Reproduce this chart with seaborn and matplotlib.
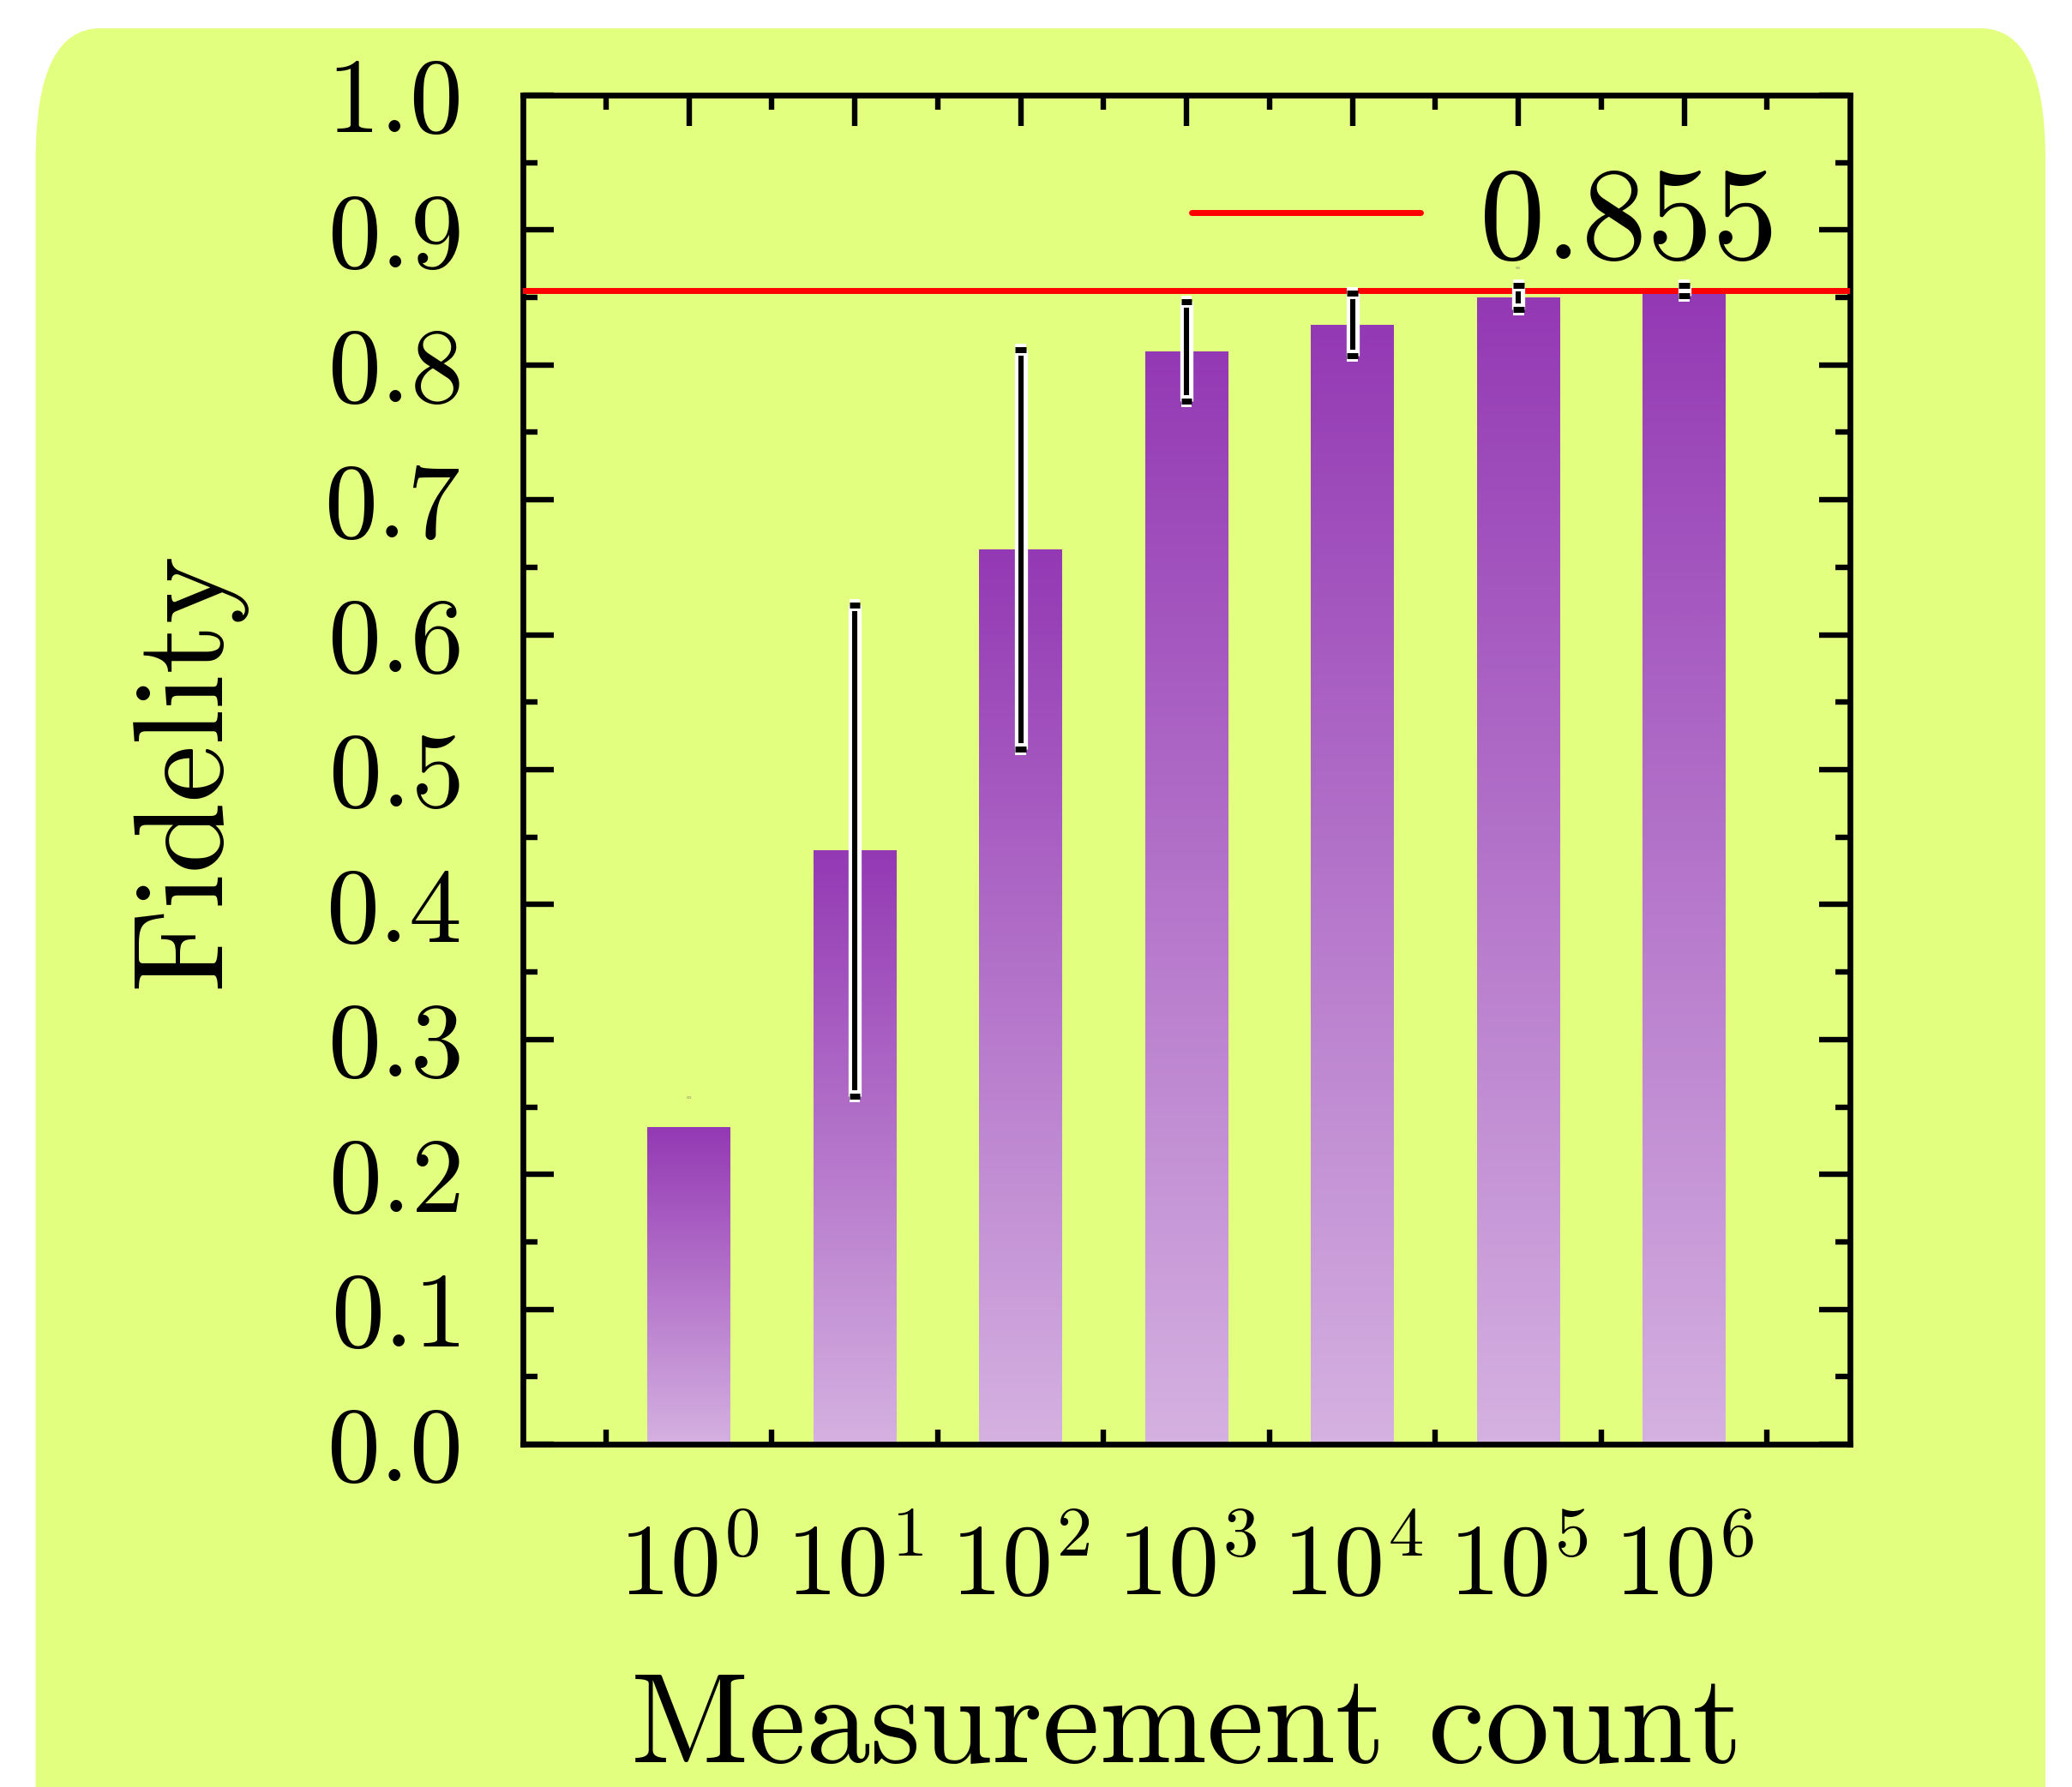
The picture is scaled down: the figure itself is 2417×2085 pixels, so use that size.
import numpy as np
import pandas as pd
import matplotlib
matplotlib.use("Agg")
import matplotlib.pyplot as plt
import seaborn as sns
from matplotlib.patches import FancyBboxPatch
from matplotlib.colors import LinearSegmentedColormap
import matplotlib.patheffects as pe
from matplotlib.ticker import MultipleLocator, FixedLocator

# ---------------- data ----------------
categories = [r"$10^{0}$", r"$10^{1}$", r"$10^{2}$", r"$10^{3}$",
              r"$10^{4}$", r"$10^{5}$", r"$10^{6}$"]
fidelity = [0.235, 0.440, 0.663, 0.810, 0.830, 0.850, 0.855]
errors = [0.0, 0.182, 0.148, 0.037, 0.023, 0.009, 0.004]
reference_value = 0.855
reference_label = "0.855"

# ---------------- style ----------------
sns.set_style("ticks")
plt.rcParams.update({
    "font.family": ["cmr10", "DejaVu Serif"],
    "mathtext.fontset": "cm",
    "axes.formatter.use_mathtext": True,
    "axes.unicode_minus": False,
    "text.color": "black",
    "axes.labelcolor": "black",
    "xtick.color": "black",
    "ytick.color": "black",
    "xtick.labelcolor": "black",
    "ytick.labelcolor": "black",
})

bg_green = "#e3ff80"
purple_top = "#9439b4"
purple_bottom = "#d5b1e1"

fig = plt.figure(figsize=(24.17, 20.85), dpi=100)
fig.patch.set_facecolor("white")

bg = FancyBboxPatch((0.0172, -0.2), 0.9872 - 0.0172, 0.9842 + 0.2,
                    boxstyle="round,pad=0,rounding_size=0.0314",
                    mutation_aspect=2.35, transform=fig.transFigure,
                    facecolor=bg_green, edgecolor="none", zorder=-10)
fig.patches.append(bg)

ax = fig.add_axes([0.2524, 0.1918, 0.8929 - 0.2524, 0.9468 - 0.1918])
ax.set_facecolor("none")

df = pd.DataFrame({"count": categories, "fidelity": fidelity})
sns.barplot(data=df, x="count", y="fidelity", ax=ax, width=0.5,
            color=purple_top, saturation=1, errorbar=None, zorder=2)

# gradient fill on every bar
cmap = LinearSegmentedColormap.from_list("grad", [purple_bottom, purple_top])
grad = np.linspace(0, 1, 256).reshape(-1, 1)
for patch in list(ax.patches):
    x0, y0 = patch.get_x(), patch.get_y()
    w, h = patch.get_width(), patch.get_height()
    patch.set_facecolor("none")
    patch.set_edgecolor("none")
    im = ax.imshow(grad, cmap=cmap, origin="lower", aspect="auto",
                   extent=[x0, x0 + w, y0, y0 + h], zorder=2,
                   interpolation="bilinear")
    im.set_clip_path(patch)

# tiny value labels (mostly hidden behind error bars)
for i, v in enumerate(fidelity):
    ax.text(i, v + 0.022, f"{v:.2f}", fontsize=2.5, ha="center",
            va="center", color="#606060", zorder=3)

# reference line
ax.axhline(reference_value, color="red", lw=5, zorder=4, label=reference_label)

# error bars with white outline
xs = np.arange(len(fidelity))
mask = np.array(errors) > 0
eb = ax.errorbar(xs[mask], np.array(fidelity)[mask],
                 yerr=np.array(errors)[mask], fmt="none", ecolor="black",
                 elinewidth=4.4, capsize=4.6, capthick=5, zorder=6)
for cap in eb[1]:
    cap.set_path_effects([pe.Stroke(linewidth=10, foreground="white"), pe.Normal()])
for col in eb[2]:
    col.set_path_effects([pe.Stroke(linewidth=11, foreground="white"), pe.Normal()])

# axes cosmetics
ax.set_xlim(-1, 7)
ax.set_ylim(0, 1.0)
ax.yaxis.set_major_locator(MultipleLocator(0.1))
ax.yaxis.set_minor_locator(MultipleLocator(0.05))
ax.xaxis.set_minor_locator(FixedLocator(np.arange(-0.5, 7.0, 1.0)))

for sp in ax.spines.values():
    sp.set_visible(True)
    sp.set_linewidth(4.8)
    sp.set_color("black")

ax.tick_params(axis="both", which="major", direction="in", length=26,
               width=4.6, top=True, right=True, color="black")
ax.tick_params(axis="both", which="minor", direction="in", length=12,
               width=4.6, top=True, right=True, color="black")
ax.tick_params(axis="y", which="major", labelsize=89, pad=53)
ax.tick_params(axis="x", which="major", labelsize=85, pad=66)

ax.set_xlabel("Measurement count", fontsize=108, labelpad=49)
ax.set_ylabel("Fidelity", fontsize=108, labelpad=66)

ax.legend(loc="upper right", frameon=False, fontsize=110,
          handlelength=1.75, handletextpad=0.45, borderaxespad=0.25,
          borderpad=0.3)

fig.savefig("out.png", dpi=100, facecolor="white")
